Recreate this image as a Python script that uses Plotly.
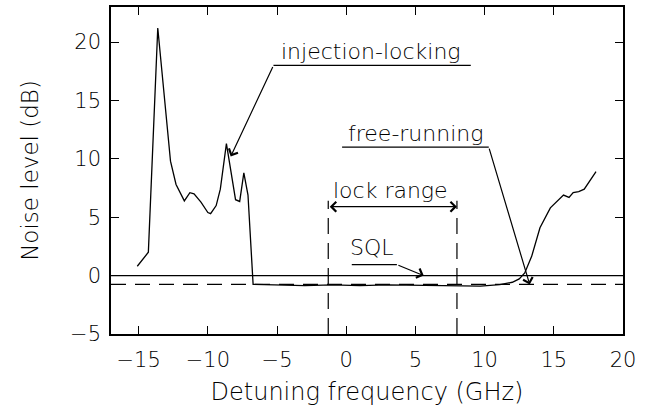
import plotly.graph_objects as go

# ---- data ----
detuning = [-15.1, -14.3, -13.62, -12.95, -12.7, -12.3, -11.7, -11.3, -11.0, -10.5,
            -10.0, -9.8, -9.4, -9.1, -8.66, -8.0, -7.7, -7.4, -7.1, -6.73,
            -5.0, -3.0, -1.0, 1.0, 3.0, 5.0, 7.0, 9.7, 11.1, 12.0, 12.5, 12.9,
            13.4, 14.0, 14.75, 15.7, 16.1, 16.4, 16.8, 17.2, 17.6, 18.05]
noise_db = [0.8, 2.0, 21.2, 12.4, 9.8, 7.8, 6.4, 7.1, 7.0, 6.3,
            5.4, 5.3, 6.0, 7.4, 11.3, 6.5, 6.35, 8.8, 6.9, -0.75,
            -0.8, -0.85, -0.8, -0.85, -0.8, -0.85, -0.85, -0.9, -0.77, -0.57, -0.28, 0.23,
            1.65, 4.1, 5.8, 6.9, 6.7, 7.1, 7.2, 7.4, 8.1, 8.9]

sql_level = 0.0
locked_level = -0.75
lock_range = [-1.3, 8.0]
lock_top = 6.4
lock_arrow_y = 5.9

x_range = [-17, 20]
y_range = [-5, 23]
x_ticks = [-15, -10, -5, 0, 5, 10, 15, 20]
y_ticks = [-5, 0, 5, 10, 15, 20]

FONT = "DejaVu Sans"

fig = go.Figure()

fig.add_trace(go.Scatter(x=x_range, y=[sql_level, sql_level], mode="lines",
                         line=dict(color="black", width=1.3), showlegend=False))
fig.add_trace(go.Scatter(x=x_range, y=[locked_level, locked_level], mode="lines",
                         line=dict(color="black", width=1.3, dash="15px,9px"), showlegend=False))
for lx in lock_range:
    fig.add_trace(go.Scatter(x=[lx, lx], y=[y_range[0], lock_top], mode="lines",
                             line=dict(color="black", width=1.2, dash="16px,9px"), showlegend=False))
fig.add_trace(go.Scatter(x=detuning, y=noise_db, mode="lines",
                         line=dict(color="black", width=1.3), showlegend=False))

# underlines for labels
underlines = [
    ([-5.26, 9.0], 18.0),   # injection-locking
    ([-0.3, 10.3], 11.0),   # free-running
    ([0.4, 3.66], 0.94),    # SQL
]
for (ux, uy) in underlines:
    fig.add_shape(type="line", x0=ux[0], x1=ux[1], y0=uy, y1=uy, xref="x", yref="y",
                  line=dict(color="black", width=1.2))

arrows = [
    # tip (x, y), tail (ax, ay)
    (-8.35, 10.2, -5.26, 18.0),
    (13.26, -0.77, 10.3, 11.0),
    (5.6, 0.0, 3.66, 0.94),
]
for (x, y, ax, ay) in arrows:
    fig.add_annotation(x=x, y=y, ax=ax, ay=ay, xref="x", yref="y", axref="x", ayref="y",
                       text="", showarrow=True, arrowhead=4, arrowsize=1.6, arrowwidth=1.2,
                       arrowcolor="black", standoff=0, startstandoff=0)

# lock range double arrow
fig.add_annotation(x=lock_range[1], y=lock_arrow_y, ax=lock_range[0], ay=lock_arrow_y,
                   xref="x", yref="y", axref="x", ayref="y", text="", showarrow=True,
                   arrowhead=4, startarrowhead=4, arrowside="end+start", arrowsize=1.6,
                   arrowwidth=1.2, arrowcolor="black", standoff=0, startstandoff=0)

labels = [
    ("injection-locking", 1.8, 19.2),
    ("free-running", 5.0, 12.2),
    ("lock range", 3.2, 7.3),
    ("SQL", 1.86, 2.4),
]
for (t, x, y) in labels:
    fig.add_annotation(x=x, y=y, xref="x", yref="y", text=t, showarrow=False,
                       font=dict(family=FONT, size=22, color="black", weight=300))

axis_common = dict(showline=True, linecolor="black", linewidth=1.5, mirror="ticks",
                   ticks="inside", ticklen=8, tickwidth=1.2, tickcolor="black",
                   showgrid=False, zeroline=False,
                   tickfont=dict(family=FONT, size=21, color="black", weight=300))

fig.update_xaxes(range=x_range, tickvals=x_ticks, ticklabelstandoff=6,
                 title=dict(text="Detuning frequency (GHz)", standoff=12,
                            font=dict(family=FONT, size=24, color="black", weight=300)),
                 **axis_common)
fig.update_yaxes(range=y_range, tickvals=y_ticks, ticklabelstandoff=4,
                 title=dict(text="Noise level (dB)", standoff=25,
                            font=dict(family=FONT, size=23, color="black", weight=300)),
                 **axis_common)

fig.update_layout(width=646, height=409, margin=dict(l=111, r=23, t=7, b=75, autoexpand=False),
                  plot_bgcolor="white", paper_bgcolor="white")

fig.write_html("out.html")
